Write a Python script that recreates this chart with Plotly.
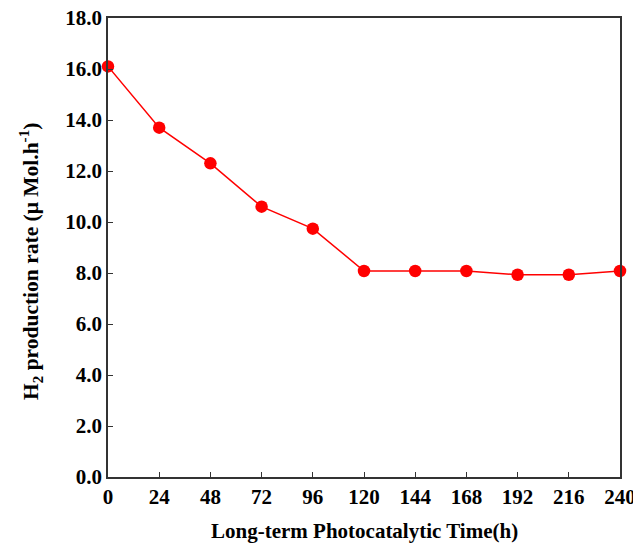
import plotly.graph_objects as go

time_h = [0, 24, 48, 72, 96, 120, 144, 168, 192, 216, 240]
h2_rate = [16.1, 13.7, 12.3, 10.6, 9.74, 8.08, 8.08, 8.08, 7.93, 7.93, 8.08]
x_ticks = [0, 24, 48, 72, 96, 120, 144, 168, 192, 216, 240]
y_ticks = [0, 2, 4, 6, 8, 10, 12, 14, 16, 18]

font_family = "Liberation Serif, Times New Roman, serif"

fig = go.Figure()
fig.add_trace(go.Scatter(
    x=time_h, y=h2_rate, mode="lines+markers",
    line=dict(color="#ff0000", width=1.5),
    marker=dict(color="#ff0000", size=12.5),
    cliponaxis=False, showlegend=False,
))

axis_common = dict(
    showgrid=False, zeroline=False, showline=True, linecolor="#333333",
    linewidth=1.5, mirror=True, ticks="inside", ticklen=5, tickwidth=1.2,
    tickcolor="#333333", automargin=False, ticklabeloverflow="allow",
    tickfont=dict(family=font_family, size=21, color="black"),
)

fig.update_layout(
    width=633, height=543,
    margin=dict(l=108, r=13, t=18, b=66),
    paper_bgcolor="white", plot_bgcolor="white",
    font=dict(family=font_family, color="black"),
    xaxis=dict(
        range=[0, 240], tickvals=x_ticks,
        ticktext=[f"<b>{v}</b>" for v in x_ticks],
        **axis_common,
    ),
    yaxis=dict(
        range=[0, 18], tickvals=y_ticks,
        ticktext=[f"<b>{v:.1f}</b>" for v in y_ticks],
        **axis_common,
    ),
    annotations=[
        dict(text="<b>Long-term Photocatalytic Time(h)</b>",
             xref="paper", yref="paper", x=0.5, y=(477 - 531) / 459,
             xanchor="center", yanchor="middle", showarrow=False,
             font=dict(family=font_family, size=21)),
        dict(text="<b>H<sub>2</sub> production rate (μ Mol.h<sup>-1</sup>)</b>",
             xref="paper", yref="paper", x=(31 - 108) / 512, y=(477 - 262) / 459,
             xanchor="center", yanchor="middle", showarrow=False, textangle=-90,
             font=dict(family=font_family, size=21.5)),
    ],
)

fig.write_html("out.html", config={"displayModeBar": False},
               post_script="document.body.style.margin='0';")
